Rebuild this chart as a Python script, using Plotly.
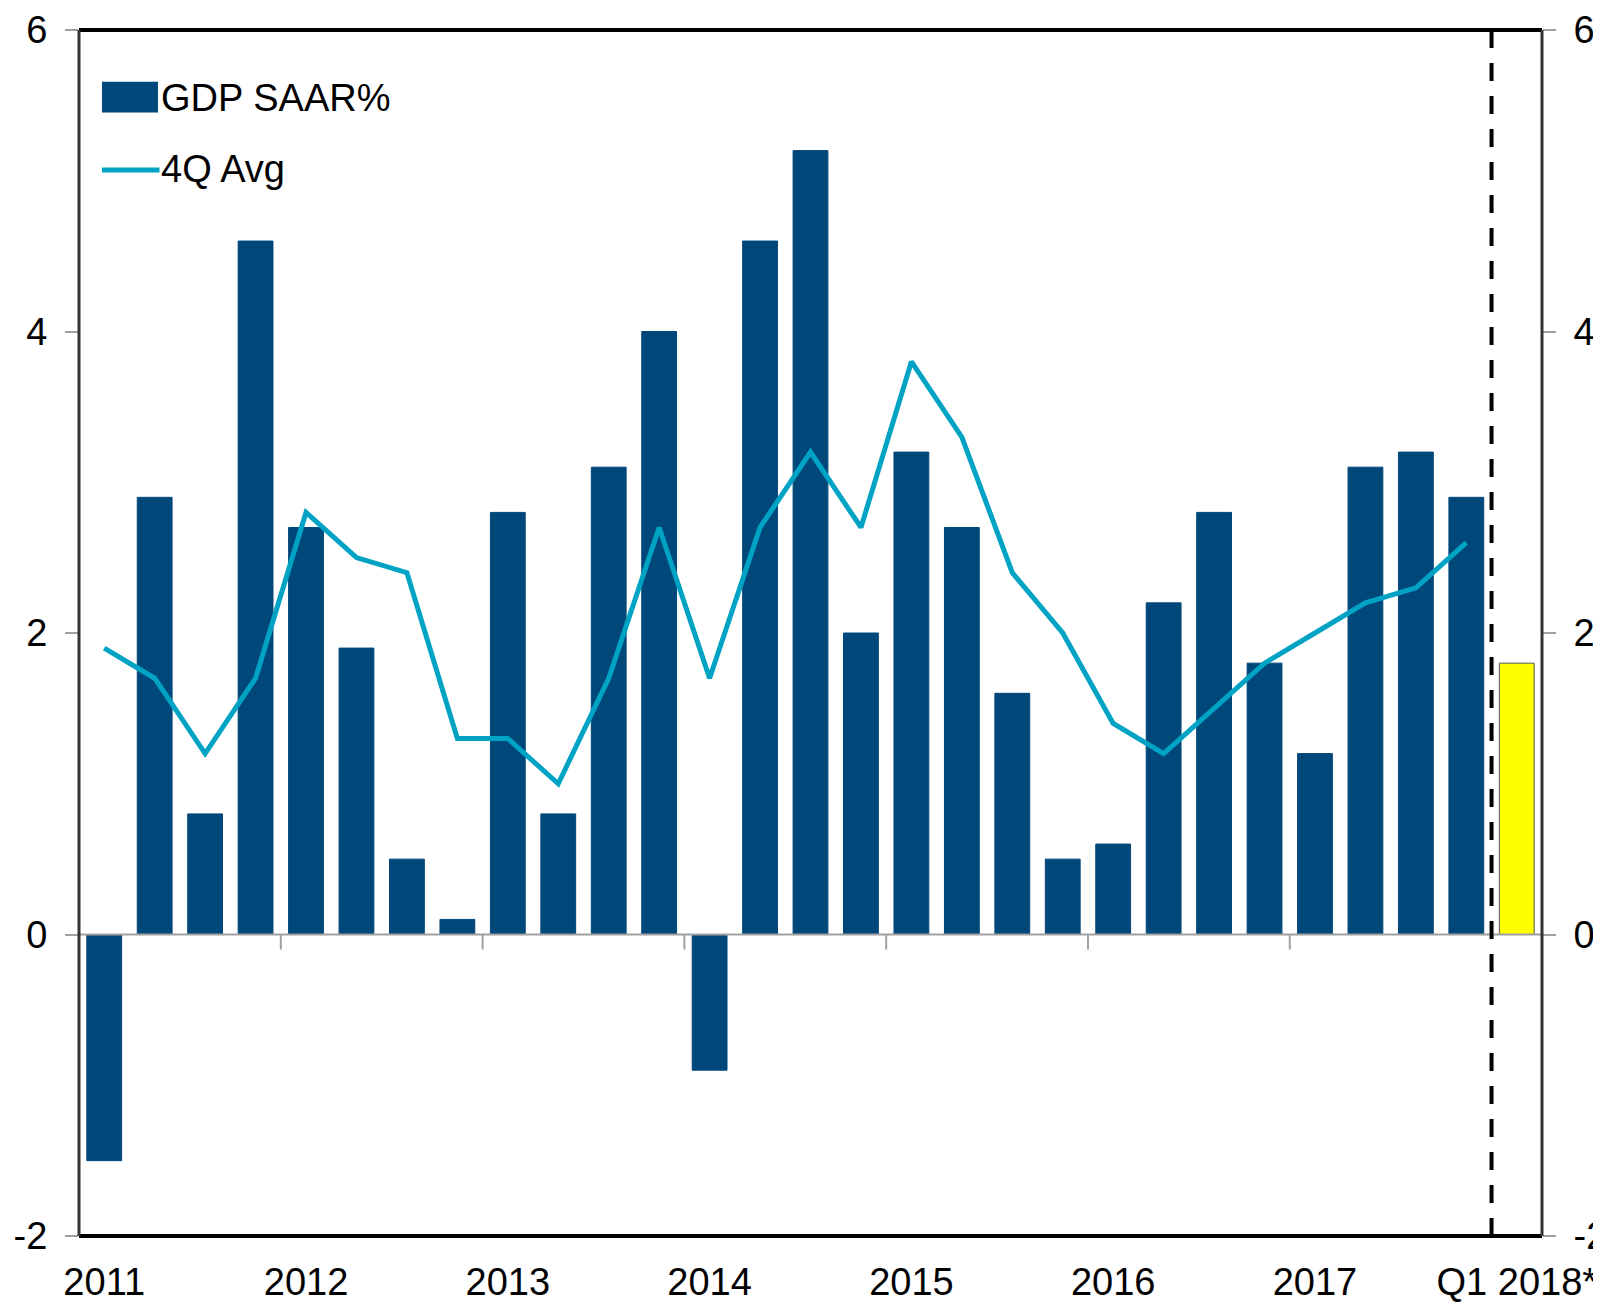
import plotly.graph_objects as go

quarters = [f"{y} Q{q}" for y in range(2011, 2018) for q in range(1, 5)] + ["2018 Q1"]
gdp_saar = [-1.5, 2.9, 0.8, 4.6,
            2.7, 1.9, 0.5, 0.1,
            2.8, 0.8, 3.1, 4.0,
            -0.9, 4.6, 5.2, 2.0,
            3.2, 2.7, 1.6, 0.5,
            0.6, 2.2, 2.8, 1.8,
            1.2, 3.1, 3.2, 2.9,
            1.8]
avg_4q = [1.9, 1.7, 1.2, 1.7,
          2.8, 2.5, 2.4, 1.3,
          1.3, 1.0, 1.7, 2.7,
          1.7, 2.7, 3.2, 2.7,
          3.8, 3.3, 2.4, 2.0,
          1.4, 1.2, 1.5, 1.8,
          2.0, 2.2, 2.3, 2.6]
year_labels = ["2011", "2012", "2013", "2014", "2015", "2016", "2017", "Q1 2018*"]
y_ticks = [-2, 0, 2, 4, 6]
y_tick_text = ["-2", "0", "2", "4", "6"]

BAR = "#00477A"
LINE = "#00A3C4"
FONT = "Liberation Sans Narrow, Arial Narrow, Liberation Sans, Arial, sans-serif"
FS = 38

xpos = list(range(len(quarters)))
bar_colors = [BAR] * (len(quarters) - 1) + ["#FFFF00"]
bar_line = [BAR] * (len(quarters) - 1) + ["#555555"]

fig = go.Figure()
fig.add_trace(go.Bar(x=xpos, y=gdp_saar, marker=dict(color=bar_colors, line=dict(color=bar_line, width=1)),
                     name="GDP SAAR%", showlegend=False, hovertext=quarters))
fig.add_trace(go.Scatter(x=xpos[:len(avg_4q)], y=avg_4q, mode="lines",
                         line=dict(color=LINE, width=5), name="4Q Avg", showlegend=False))
# invisible trace to activate right axis
fig.add_trace(go.Scatter(x=[xpos[0]], y=[0], yaxis="y2", mode="markers",
                         marker=dict(opacity=0), showlegend=False, hoverinfo="skip"))

shapes = []
# zero line
shapes.append(dict(type="line", xref="paper", yref="y", x0=0, x1=1.0, y0=0, y1=0,
                   line=dict(color="#A0A0A0", width=2), layer="above"))
# year boundary ticks on zero line
for i in range(1, 7):
    xb = 4 * i - 0.5
    shapes.append(dict(type="line", xref="x", yref="y", x0=xb, x1=xb, y0=0, y1=-0.1,
                       line=dict(color="#A0A0A0", width=2)))
# dashed separator before forecast
shapes.append(dict(type="line", xref="x", yref="y", x0=len(quarters) - 1.5, x1=len(quarters) - 1.5,
                   y0=-2, y1=6, line=dict(color="black", width=4, dash="18px,15px"), layer="above"))
# frame
shapes.append(dict(type="line", xref="paper", yref="paper", x0=0, x1=1, y0=1, y1=1,
                   line=dict(color="black", width=4)))
shapes.append(dict(type="line", xref="paper", yref="paper", x0=0, x1=1, y0=0, y1=0,
                   line=dict(color="black", width=4)))
shapes.append(dict(type="line", xref="paper", yref="paper", x0=0, x1=0, y0=0, y1=1,
                   line=dict(color="#333333", width=3)))
shapes.append(dict(type="line", xref="paper", yref="paper", x0=1, x1=1, y0=0, y1=1,
                   line=dict(color="#333333", width=3)))
# custom legend symbols (paper coords)
shapes.append(dict(type="rect", xref="paper", yref="paper", x0=0.0157, x1=0.0540, y0=0.9315, y1=0.9570,
                   fillcolor=BAR, line=dict(width=0)))
shapes.append(dict(type="line", xref="paper", yref="paper", x0=0.0157, x1=0.0550, y0=0.8840, y1=0.8840,
                   line=dict(color=LINE, width=5)))

annotations = [
    dict(text="GDP SAAR%", xref="paper", yref="paper", x=0.0545, y=0.9440, xanchor="left", yanchor="middle",
         showarrow=False, font=dict(family=FONT, size=FS, color="black")),
    dict(text="4Q Avg", xref="paper", yref="paper", x=0.0545, y=0.8850, xanchor="left", yanchor="middle",
         showarrow=False, font=dict(family=FONT, size=FS, color="black")),
]

fig.update_layout(
    width=1593, height=1301,
    margin=dict(l=71, r=59, t=22, b=73),
    paper_bgcolor="white", plot_bgcolor="white",
    bargap=0.31,
    font=dict(family=FONT, size=FS, color="black"),
    xaxis=dict(range=[-0.5, len(quarters) - 0.5], tickvals=[0, 4, 8, 12, 16, 20, 24, 28],
               ticktext=year_labels, ticks="", showgrid=False, zeroline=False, showline=False,
               automargin=False, ticklabelstandoff=20, tickfont=dict(family=FONT, size=FS, color="black")),
    yaxis=dict(range=[-2, 6], tickvals=y_ticks, ticktext=y_tick_text, ticks="outside", ticklen=13,
               tickcolor="#A0A0A0", tickwidth=2, automargin=False,
               showgrid=False, zeroline=False, showline=False, ticklabelstandoff=10,
               tickfont=dict(family=FONT, size=FS, color="black")),
    yaxis2=dict(range=[-2, 6], tickvals=y_ticks, ticktext=y_tick_text, ticks="outside", ticklen=13,
                tickcolor="#A0A0A0", tickwidth=2, automargin=False,
                overlaying="y", side="right", showgrid=False, zeroline=False, showline=False,
                ticklabelstandoff=10, tickfont=dict(family=FONT, size=FS, color="black")),
    shapes=shapes,
    annotations=annotations,
    showlegend=False,
)

fig.write_html("out.html")
